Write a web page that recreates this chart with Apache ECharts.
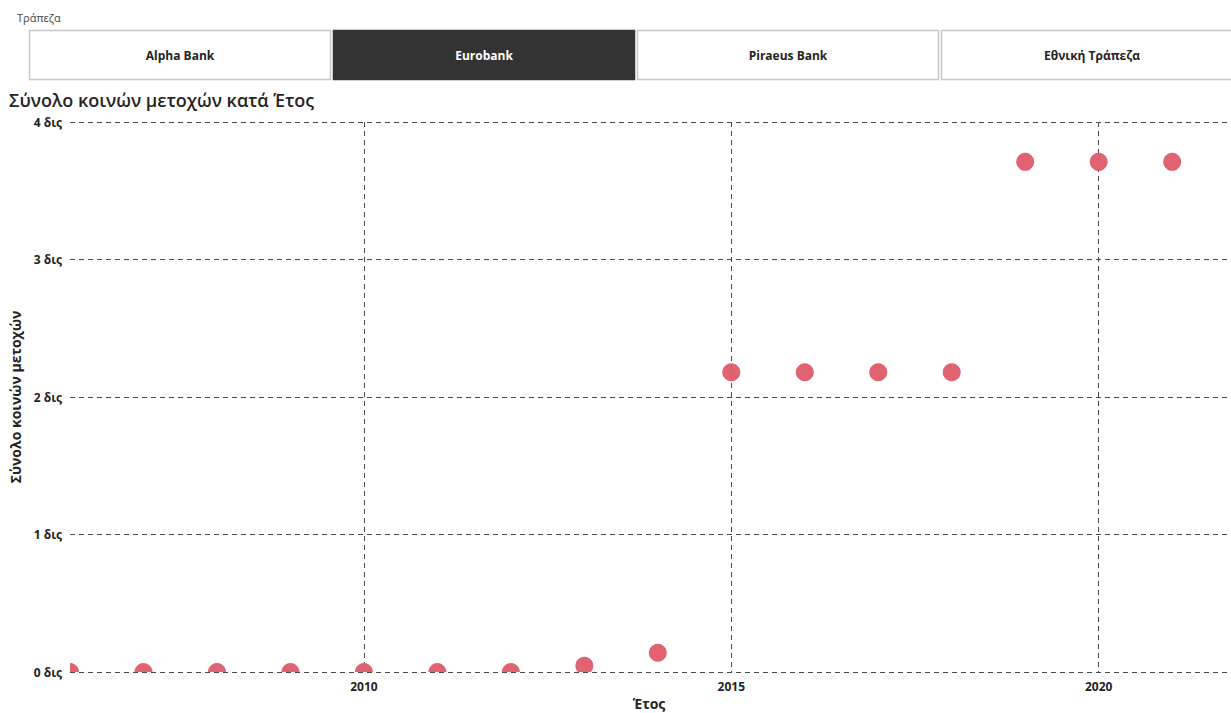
<!DOCTYPE html>
<html>
<head>
<meta charset="utf-8">
<script src="https://cdn.jsdelivr.net/npm/echarts@6/dist/echarts.min.js"></script>
<style>
  html, body { margin: 0; padding: 0; background: #fff; }
  #chart { width: 1231px; height: 713px; }
</style>
</head>
<body>
<div id="chart"></div>
<script>
// slicer buttons
const banks = ['Alpha Bank', 'Eurobank', 'Piraeus Bank', 'Εθνική Τράπεζα']
const selectedBank = 'Eurobank'

// data, values in δις
const years = [2006, 2007, 2008, 2009, 2010, 2011, 2012, 2013, 2014, 2015, 2016, 2017, 2018, 2019, 2020, 2021]
const shares = [0, 0, 0, 0, 0, 0, 0, 0.045, 0.14, 2.18, 2.18, 2.18, 2.18, 3.71, 3.71, 3.71]
const yearTicks = [2010, 2015, 2020]

const font = '"Segoe UI", "Open Sans", "Noto Sans", sans-serif'

const chart = echarts.init(document.getElementById('chart'), null, { renderer: 'svg' })

// slicer drawn as graphic elements
const slicer = []
const btnLeft = 29, btnW = 302, btnGap = 2, btnTop = 30, btnH = 50
banks.forEach(function (name, i) {
  const sel = name === selectedBank
  const x = btnLeft + i * (btnW + btnGap)
  slicer.push({
    type: 'rect',
    shape: { x: x + 0.5, y: btnTop + 0.5, width: btnW - 1, height: btnH - 1 },
    style: { fill: sel ? '#333333' : '#ffffff', stroke: sel ? '#333333' : '#c8c8c8', lineWidth: 1.5 }
  })
  slicer.push({
    type: 'text',
    x: x + btnW / 2,
    y: btnTop + btnH / 2,
    style: {
      text: name, fill: sel ? '#ffffff' : '#252423',
      font: 'bold 12px ' + font, align: 'center', verticalAlign: 'middle'
    }
  })
})
slicer.push({
  type: 'text', x: 17, y: 17,
  style: { text: 'Τράπεζα', fill: '#444', font: '11px ' + font, verticalAlign: 'middle' }
})

const option = {
  animation: false,
  textStyle: { fontFamily: font },
  title: {
    text: 'Σύνολο κοινών μετοχών κατά Έτος',
    left: 4,
    top: 86,
    textStyle: { fontSize: 18, fontWeight: 600, color: '#252423', fontFamily: font }
  },
  graphic: slicer,
  grid: { left: 70, right: 3, top: 122, bottom: 41, containLabel: false, outerBoundsMode: 'none' },
  xAxis: {
    type: 'value',
    min: 2006,
    max: 2021.76,
    name: 'Έτος',
    nameLocation: 'middle',
    nameGap: 23,
    nameTextStyle: { fontSize: 14, fontWeight: 'bold', color: '#252423' },
    axisLine: { show: false },
    axisTick: { show: false, customValues: yearTicks },
    axisLabel: {
      customValues: yearTicks,
      formatter: function (v) { return String(v) },
      color: '#252423', fontWeight: 'bold', fontSize: 12, margin: 8
    },
    splitLine: {
      show: true,
      lineStyle: { type: [5, 4], color: '#4a4a4a', width: 1 }
    }
  },
  yAxis: {
    type: 'value',
    min: 0,
    max: 4,
    interval: 1,
    name: 'Σύνολο κοινών μετοχών',
    nameLocation: 'middle',
    nameGap: 47,
    nameTextStyle: { fontSize: 14, fontWeight: 'bold', color: '#252423' },
    axisLine: { show: false },
    axisTick: { show: false },
    axisLabel: {
      formatter: function (v) { return v + ' δις' },
      color: '#252423', fontWeight: 'bold', fontSize: 12, margin: 8
    },
    splitLine: {
      show: true,
      lineStyle: { type: [5, 4], color: '#4a4a4a', width: 1 }
    }
  },
  series: [
    {
      // custom series so the dots get cut at the plot edges
      type: 'custom',
      clip: true,
      data: years.map(function (y, i) { return [y, shares[i]] }),
      renderItem: function (params, api) {
        const p = api.coord([api.value(0), api.value(1)])
        return {
          type: 'circle',
          shape: { cx: p[0], cy: p[1], r: 9 },
          style: { fill: '#dd5b69', opacity: 0.95 }
        }
      }
    }
  ]
}

chart.setOption(option)
</script>
</body>
</html>
